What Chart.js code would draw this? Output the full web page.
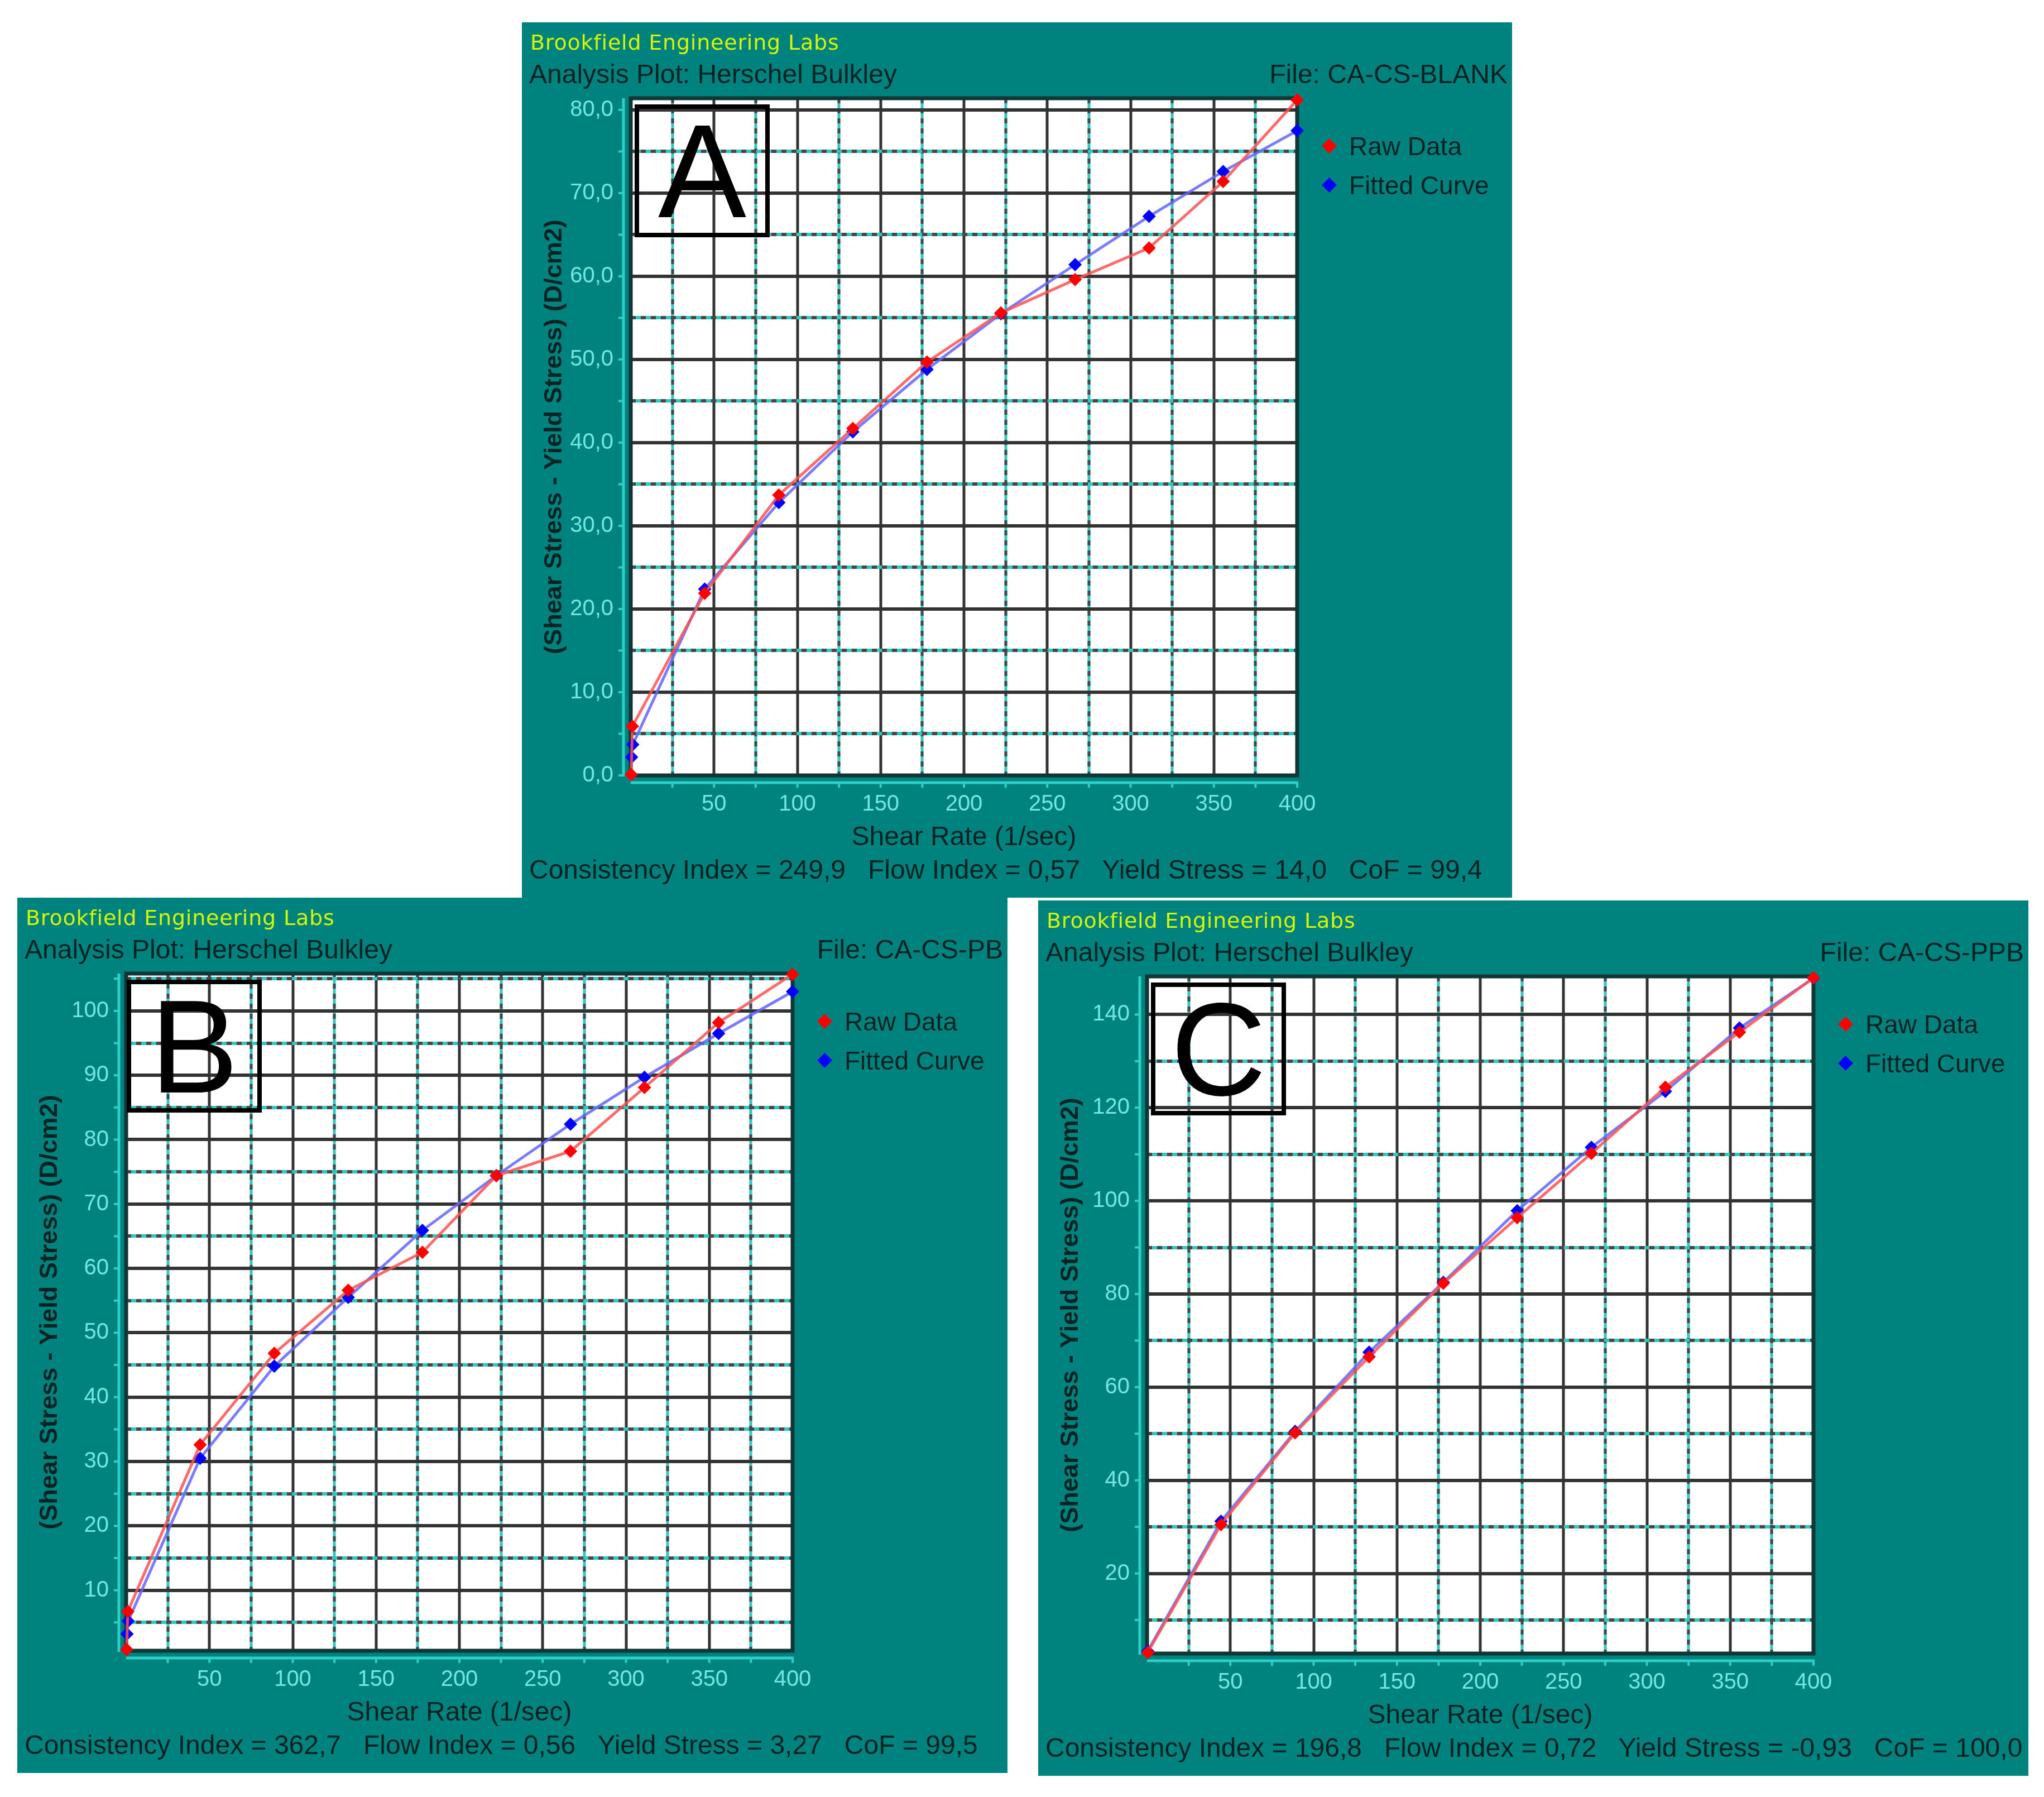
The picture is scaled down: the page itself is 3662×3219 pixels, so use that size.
<!DOCTYPE html>
<html>
<head>
<meta charset="utf-8">
<title>Herschel Bulkley analysis plots</title>
<script src="https://cdn.jsdelivr.net/npm/chart.js@4.4.1/dist/chart.umd.min.js"></script>
<style>
  html, body { margin: 0; padding: 0; background: #ffffff; }
  body { width: 3662px; height: 3219px; position: relative; overflow: hidden;
         font-family: 'Liberation Sans', Arial, sans-serif; }
  .panel { position: absolute; width: 1774px; height: 1568px; background: #00827e; }
  .panel canvas { position: absolute; left: 0; top: 0; }
  .brand { position: absolute; left: 15px; top: 13px; font-family: 'DejaVu Sans', sans-serif;
           font-size: 38px; line-height: 46px; color: #d2f700; white-space: nowrap; letter-spacing: 0.8px; }
  .txt { position: absolute; font-size: 48px; line-height: 56px; color: #062222; white-space: pre; }
  .analysis { left: 13px; top: 65px; }
  .file { right: 8px; top: 65px; }
  .footer { left: 13px; top: 1490px; }
  .legend { position: absolute; left: 1432px; font-size: 46px; line-height: 54px; color: #062222; white-space: nowrap; }
  .legend i { position: absolute; left: 5px; top: 17px; width: 19px; height: 19px; transform: rotate(45deg); }
  .legend span { position: absolute; left: 50px; top: 0; }
  .letter { position: absolute; top: 147px; width: 242px; height: 238px; box-sizing: border-box;
            border: 8px solid #000; display: flex; align-items: center; justify-content: center;
            font-family: 'Liberation Sans', Arial, sans-serif; font-size: 237px; line-height: 1; color: #000; }
</style>
</head>
<body>
<script>
// ---------------- data ----------------
const xTickValues = [50, 100, 150, 200, 250, 300, 350, 400];

// A : CA-CS-BLANK
const rateRawA = [0.3, 1.0, 44.4, 88.9, 133.3, 177.8, 222.2, 266.7, 311.1, 355.6, 400.0];
const stressRawA = [0.1, 5.9, 21.9, 33.7, 41.7, 49.7, 55.6, 59.6, 63.4, 71.4, 81.2];
const rateFitA = [0.5, 1.2, 44.4, 88.9, 133.3, 177.8, 222.2, 266.7, 311.1, 355.6, 400.0];
const stressFitA = [2.2, 3.7, 22.4, 32.8, 41.3, 48.8, 55.5, 61.4, 67.2, 72.6, 77.5];
const yTicksA = [0, 10, 20, 30, 40, 50, 60, 70, 80];

// B : CA-CS-PB
const rateRawB = [0.3, 1.0, 44.4, 88.9, 133.3, 177.8, 222.2, 266.7, 311.1, 355.6, 400.0];
const stressRawB = [0.8, 6.7, 32.6, 46.8, 56.6, 62.5, 74.4, 78.2, 88.1, 98.2, 105.7];
const rateFitB = [0.5, 1.2, 44.4, 88.9, 133.3, 177.8, 222.2, 266.7, 311.1, 355.6, 400.0];
const stressFitB = [3.2, 5.2, 30.5, 44.8, 55.5, 65.9, 74.4, 82.4, 89.7, 96.5, 103.0];
const yTicksB = [10, 20, 30, 40, 50, 60, 70, 80, 90, 100];

// C : CA-CS-PPB
const rateRawC = [0.4, 44.4, 88.9, 133.3, 177.8, 222.2, 266.7, 311.1, 355.6, 400.0];
const stressRawC = [3.0, 30.5, 50.2, 66.5, 82.3, 96.4, 110.2, 124.4, 136.2, 147.9];
const rateFitC = [0.4, 44.4, 88.9, 133.3, 177.8, 222.2, 266.7, 311.1, 355.6, 400.0];
const stressFitC = [3.3, 31.2, 50.5, 67.5, 82.5, 97.9, 111.5, 123.5, 137.1, 147.8];
const yTicksC = [20, 40, 60, 80, 100, 120, 140];

const fileNames = ['CA-CS-BLANK', 'CA-CS-PB', 'CA-CS-PPB'];
const footers = [
  'Consistency Index = 249,9   Flow Index = 0,57   Yield Stress = 14,0   CoF = 99,4',
  'Consistency Index = 362,7   Flow Index = 0,56   Yield Stress = 3,27   CoF = 99,5',
  'Consistency Index = 196,8   Flow Index = 0,72   Yield Stress = -0,93   CoF = 100,0'
];

// ---------------- styling ----------------
const TEAL_AXIS = '#2bd0c8';
const TICK_TEXT = '#74e6e1';
const DARK_TEXT = '#062222';
const SANS = "'Liberation Sans', Arial, sans-serif";

const W = 1774, H = 1568;
const AREA = { left: 195, top: 136, right: 1389, bottom: 1349 };

function toPoints(xs, ys) {
  return xs.map((x, i) => ({ x, y: ys[i] }));
}

function isMultiple(v, step) {
  const r = v / step;
  return Math.abs(r - Math.round(r)) < 1e-9;
}

// gridlines, plot frame and detached axis lines of the Brookfield plot
const hbGrid = {
  id: 'hbGrid',
  beforeDatasetsDraw(chart, args, opts) {
    const { ctx, chartArea: a, scales: { x, y } } = chart;
    ctx.save();
    ctx.fillStyle = '#ffffff';
    ctx.fillRect(a.left, a.top, a.right - a.left, a.bottom - a.top);

    const drawLine = (x1, y1, x2, y2, major, w) => {
      ctx.setLineDash([]);
      ctx.lineWidth = w;
      if (major) {
        ctx.strokeStyle = '#333333';
        ctx.beginPath(); ctx.moveTo(x1, y1); ctx.lineTo(x2, y2); ctx.stroke();
      } else {
        ctx.strokeStyle = '#30c6c1';
        ctx.beginPath(); ctx.moveTo(x1, y1); ctx.lineTo(x2, y2); ctx.stroke();
        ctx.setLineDash([9, 9]);
        ctx.strokeStyle = '#474747';
        ctx.beginPath(); ctx.moveTo(x1, y1); ctx.lineTo(x2, y2); ctx.stroke();
      }
    };

    for (let i = 1; i * opts.xStep < x.max; i++) {
      const v = i * opts.xStep;
      const px = Math.round(x.getPixelForValue(v));
      drawLine(px, a.top, px, a.bottom, isMultiple(v, opts.xMajor), 5);
    }
    for (let i = 0; i * opts.yStep < y.max; i++) {
      const v = i * opts.yStep;
      if (v <= y.min) continue;
      const py = Math.round(y.getPixelForValue(v));
      drawLine(a.left, py, a.right, py, isMultiple(v, opts.yMajor), 6);
    }

    ctx.setLineDash([]);
    ctx.strokeStyle = '#103636';
    ctx.lineWidth = 7;
    ctx.strokeRect(a.left, a.top, a.right - a.left, a.bottom - a.top);

    // axis lines set off from the plot
    ctx.strokeStyle = TEAL_AXIS;
    ctx.lineWidth = 5;
    const ax = a.left - 13, ay = a.bottom + 13;
    ctx.beginPath(); ctx.moveTo(ax, a.top); ctx.lineTo(ax, a.bottom + 2); ctx.stroke();
    ctx.beginPath(); ctx.moveTo(a.left, ay); ctx.lineTo(a.right + 2, ay); ctx.stroke();
    ctx.lineWidth = 4;
    for (let i = 1; i * opts.xStep <= x.max; i++) {
      const px = x.getPixelForValue(i * opts.xStep);
      ctx.beginPath(); ctx.moveTo(px, ay); ctx.lineTo(px, ay + 9); ctx.stroke();
    }
    for (let i = 0; i * opts.yStep <= y.max; i++) {
      const v = i * opts.yStep;
      if (v < y.min) continue;
      const py = y.getPixelForValue(v);
      ctx.beginPath(); ctx.moveTo(ax, py); ctx.lineTo(ax - 9, py); ctx.stroke();
    }
    ctx.restore();
  }
};

function makePanel(p) {
  const div = document.createElement('div');
  div.className = 'panel';
  div.style.left = p.left + 'px';
  div.style.top = p.top + 'px';
  div.innerHTML =
    '<canvas width="' + W + '" height="' + H + '"></canvas>' +
    '<div class="brand">Brookfield Engineering Labs</div>' +
    '<div class="txt analysis">Analysis Plot: Herschel Bulkley</div>' +
    '<div class="txt file">File: ' + p.file + '</div>' +
    '<div class="legend" style="top:195px"><i style="background:#ff0000"></i><span>Raw Data</span></div>' +
    '<div class="legend" style="top:265px"><i style="background:#0000ff"></i><span>Fitted Curve</span></div>' +
    '<div class="letter" style="left:' + p.boxLeft + 'px">' + p.letter + '</div>' +
    '<div class="txt footer">' + p.footer + '</div>';
  document.body.appendChild(div);

  const ctx = div.querySelector('canvas').getContext('2d');
  new Chart(ctx, {
    type: 'line',
    data: {
      datasets: [
        {
          label: 'Raw Data',
          data: toPoints(p.rawX, p.rawY),
          borderColor: 'rgba(255, 80, 80, 0.85)',
          borderWidth: 5,
          pointStyle: 'rectRot',
          pointRadius: 12,
          pointBackgroundColor: '#ff0000',
          pointBorderWidth: 0,
          tension: 0,
          clip: false,
          order: 0
        },
        {
          label: 'Fitted Curve',
          data: toPoints(p.fitX, p.fitY),
          borderColor: 'rgba(100, 100, 255, 0.85)',
          borderWidth: 5,
          pointStyle: 'rectRot',
          pointRadius: 12,
          pointBackgroundColor: '#0000ff',
          pointBorderWidth: 0,
          tension: 0,
          clip: false,
          order: 1
        }
      ]
    },
    options: {
      responsive: false,
      animation: false,
      devicePixelRatio: 1,
      layout: { padding: { left: 0, top: AREA.top, right: W - AREA.right, bottom: 0 } },
      plugins: {
        legend: { display: false },
        tooltip: { enabled: false },
        hbGrid: { xStep: 25, xMajor: 50, yStep: p.yStep, yMajor: p.yMajor }
      },
      scales: {
        x: {
          type: 'linear',
          min: 0,
          max: 400,
          afterBuildTicks: (s) => { s.ticks = xTickValues.map(v => ({ value: v })); },
          afterFit: (s) => { s.height = H - AREA.bottom; },
          grid: { display: false, drawTicks: false },
          border: { display: false },
          ticks: { color: TICK_TEXT, font: { family: SANS, size: 40 }, padding: 28,
                   autoSkip: false, maxRotation: 0, callback: (v) => String(v) },
          title: { display: true, text: 'Shear Rate (1/sec)', color: DARK_TEXT,
                   font: { family: SANS, size: 48 }, padding: { top: 0, bottom: 78 } }
        },
        y: {
          type: 'linear',
          min: p.yMin,
          max: p.yMax,
          afterBuildTicks: (s) => { s.ticks = p.yTicks.map(v => ({ value: v })); },
          afterFit: (s) => { s.width = AREA.left; },
          grid: { display: false, drawTicks: false },
          border: { display: false },
          ticks: { color: TICK_TEXT, font: { family: SANS, size: 40 }, padding: 31,
                   autoSkip: false, callback: p.fmt },
          title: { display: true, text: '(Shear Stress - Yield Stress) (D/cm2)', color: DARK_TEXT,
                   font: { family: SANS, size: 45, weight: 'bold' }, padding: { top: 32, bottom: 0 } }
        }
      }
    },
    plugins: [hbGrid]
  });
}

const commaOne = (v) => v.toFixed(1).replace('.', ',');
const plain = (v) => String(v);

makePanel({ left: 935, top: 40, letter: 'A', boxLeft: 202, file: fileNames[0], footer: footers[0],
  rawX: rateRawA, rawY: stressRawA, fitX: rateFitA, fitY: stressFitA,
  yMin: 0, yMax: 81.4, yTicks: yTicksA, yStep: 5, yMajor: 10, fmt: commaOne });
makePanel({ left: 31, top: 1608, letter: 'B', boxLeft: 196, file: fileNames[1], footer: footers[1],
  rawX: rateRawB, rawY: stressRawB, fitX: rateFitB, fitY: stressFitB,
  yMin: 0.6, yMax: 105.8, yTicks: yTicksB, yStep: 5, yMajor: 10, fmt: plain });
makePanel({ left: 1860, top: 1613, letter: 'C', boxLeft: 202, file: fileNames[2], footer: footers[2],
  rawX: rateRawC, rawY: stressRawC, fitX: rateFitC, fitY: stressFitC,
  yMin: 2.8, yMax: 148.2, yTicks: yTicksC, yStep: 10, yMajor: 20, fmt: plain });
</script>
</body>
</html>
